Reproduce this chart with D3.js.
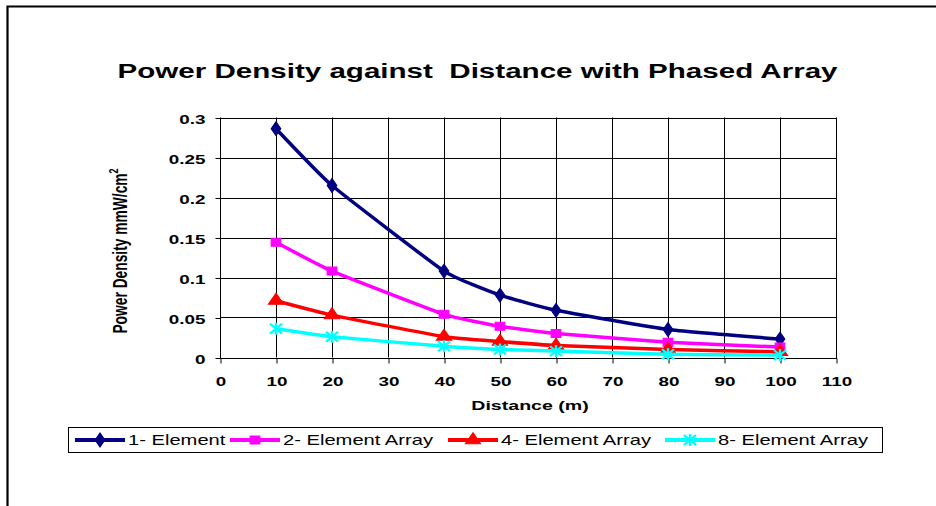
<!DOCTYPE html>
<html>
<head>
<meta charset="utf-8">
<script src="https://cdn.jsdelivr.net/npm/d3@7"></script>
<style>
  html, body { margin: 0; padding: 0; background: #fff; }
  svg { display: block; }
  text { font-family: "Liberation Sans", Arial, sans-serif; fill: #000; white-space: pre; }
</style>
</head>
<body>
<svg id="chart" width="936" height="506"></svg>
<script>
// ---- data ----
const distances = [10, 20, 40, 50, 60, 80, 100];
const element1 = [0.286, 0.215, 0.108, 0.078, 0.059, 0.035, 0.023];
const element2 = [0.144, 0.108, 0.054, 0.039, 0.030, 0.019, 0.013];
const element4 = [0.071, 0.053, 0.026, 0.020, 0.015, 0.010, 0.007];
const element8 = [0.036, 0.026, 0.014, 0.010, 0.008, 0.004, 0.003];
const seriesNames = ["1- Element", "2- Element Array", "4- Element Array", "8- Element Array"];
const seriesColors = ["#000080", "#FF00FF", "#FF0000", "#00FFFF"];
const seriesMarkers = ["diamond", "square", "triangle", "star"];
const xTicks = [0, 10, 20, 30, 40, 50, 60, 70, 80, 90, 100, 110];
const yTicks = [0, 0.05, 0.1, 0.15, 0.2, 0.25, 0.3];
const yTickLabels = ["0", "0.05", "0.1", "0.15", "0.2", "0.25", "0.3"];
const titleText = "Power Density against  Distance with Phased Array";
const xTitle = "Distance (m)";
const yTitle = "Power Density mmW/cm";

const allSeries = [element1, element2, element4, element8];

// ---- layout ----
const SX = 1.45; // horizontal stretch of the original picture
const svg = d3.select("#chart");
const plot = { left: 220, right: 836, top: 117.5, bottom: 357.5 };

const x = d3.scaleLinear().domain([0, 110]).range([plot.left, plot.right]);
const y = d3.scaleLinear().domain([0, 0.3]).range([plot.bottom, plot.top]);

// outer frame
svg.append("path")
  .attr("d", `M7.5,506 L7.5,6.5 L936,6.5`)
  .attr("fill", "none").attr("stroke", "#000").attr("stroke-width", 2.2);

function stext(parent, px, py, str, size, weight, anchor, rot) {
  return parent.append("text")
    .attr("transform", `translate(${px},${py}) scale(${SX},1)` + (rot ? ` rotate(${rot})` : ""))
    .attr("text-anchor", anchor || "middle")
    .attr("xml:space", "preserve")
    .style("font-size", size + "px")
    .style("font-weight", weight || "normal")
    .text(str);
}

// title
stext(svg, 477.5, 78, titleText, 20.4, "bold", "middle");

// gridlines
const grid = svg.append("g");
grid.selectAll("line.h").data(yTicks).join("line")
  .attr("x1", plot.left).attr("x2", plot.right)
  .attr("y1", d => Math.round(y(d)) + 0.5).attr("y2", d => Math.round(y(d)) + 0.5)
  .attr("stroke", "#000").attr("stroke-width", 1);
grid.selectAll("line.v").data(xTicks).join("line")
  .attr("y1", plot.top).attr("y2", plot.bottom)
  .attr("x1", d => Math.round(x(d)) + 0.5).attr("x2", d => Math.round(x(d)) + 0.5)
  .attr("stroke", "#000").attr("stroke-width", 1);
svg.append("rect")
  .attr("x", plot.left + 0.5).attr("y", Math.round(plot.top) + 0.5)
  .attr("width", Math.round(plot.right - plot.left))
  .attr("height", Math.round(plot.bottom - plot.top))
  .attr("fill", "none").attr("stroke", "#000").attr("stroke-width", 1);

// axes
const yAxis = d3.axisLeft(y).tickValues(yTicks)
  .tickFormat((d, i) => yTickLabels[i]).tickSize(5).tickPadding(10);
const gy = svg.append("g").attr("transform", `translate(${plot.left + 0.5},0.5)`).call(yAxis);
gy.select(".domain").remove();
gy.selectAll(".tick line").attr("stroke", "#000");
gy.selectAll(".tick text")
  .attr("x", null).attr("dy", null)
  .attr("transform", `translate(-15,5) scale(${SX},1)`)
  .style("font-size", "13px").style("font-weight", "bold")
  .style("font-family", '"Liberation Sans", Arial, sans-serif').attr("fill", "#000");

const xAxis = d3.axisBottom(x).tickValues(xTicks).tickSize(5).tickPadding(10);
const gx = svg.append("g").attr("transform", `translate(0.5,${Math.round(plot.bottom) + 0.5})`).call(xAxis);
gx.select(".domain").remove();
gx.selectAll(".tick line").attr("stroke", "#000");
gx.selectAll(".tick text")
  .attr("y", null).attr("dy", null)
  .attr("transform", `translate(0,27) scale(${SX},1)`)
  .style("font-size", "13px").style("font-weight", "bold")
  .style("font-family", '"Liberation Sans", Arial, sans-serif').attr("fill", "#000");

// axis titles
stext(svg, 530, 410, xTitle, 13.5, "bold", "middle");
const yt = stext(svg, 127, 251, "", 13.8, "bold", "middle", -90);
yt.append("tspan").text(yTitle);
yt.append("tspan").attr("dy", -6).style("font-size", "9px").text("2");

// markers
function markerPath(type) {
  if (type === "diamond") return d3.symbol(d3.symbolDiamond, 55)();
  if (type === "square") return d3.symbol(d3.symbolSquare, 64)();
  if (type === "triangle") return d3.symbol(d3.symbolTriangle, 70)();
  const r = 5;
  return `M${-r},${-r}L${r},${r}M${-r},${r}L${r},${-r}M0,${-r - 1}L0,${r + 1}`;
}

const line = d3.line().x((d, i) => x(distances[i])).y(d => y(d)).curve(d3.curveCardinal.tension(0.6));

const seriesG = svg.append("g");
allSeries.forEach((vals, si) => {
  const g = seriesG.append("g");
  g.append("path").datum(vals)
    .attr("d", line)
    .attr("fill", "none").attr("stroke", seriesColors[si])
    .attr("stroke-width", 3.5).attr("stroke-linejoin", "round").attr("stroke-linecap", "round");
  g.selectAll("path.m").data(vals).join("path")
    .attr("class", "m")
    .attr("transform", (d, i) => `translate(${x(distances[i])},${y(d)}) scale(1.2,1)`)
    .attr("d", markerPath(seriesMarkers[si]))
    .attr("fill", seriesColors[si])
    .attr("stroke", seriesColors[si])
    .attr("stroke-width", seriesMarkers[si] === "star" ? 2 : 1);
});

// legend
const legend = svg.append("g");
legend.append("rect").attr("x", 68.5).attr("y", 427.5).attr("width", 814).attr("height", 25)
  .attr("fill", "#fff").attr("stroke", "#000").attr("stroke-width", 1);
const legendX = [75, 230, 448, 665];
seriesNames.forEach((name, si) => {
  const lx = legendX[si], ly = 440;
  legend.append("line").attr("x1", lx).attr("x2", lx + 50).attr("y1", ly).attr("y2", ly)
    .attr("stroke", seriesColors[si]).attr("stroke-width", 4);
  legend.append("path").attr("transform", `translate(${lx + 25},${ly}) scale(1.2,1)`)
    .attr("d", markerPath(seriesMarkers[si]))
    .attr("fill", seriesColors[si]).attr("stroke", seriesColors[si])
    .attr("stroke-width", seriesMarkers[si] === "star" ? 2 : 1);
  stext(legend, lx + 53, ly + 5, name, 13.9, "normal", "start");
});
</script>
</body>
</html>
